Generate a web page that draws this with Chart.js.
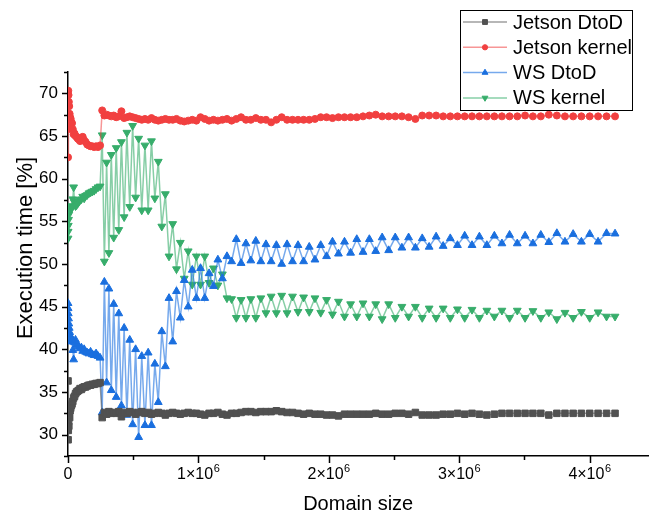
<!DOCTYPE html>
<html>
<head>
<meta charset="utf-8">
<script src="https://cdn.jsdelivr.net/npm/chart.js@4.4.0/dist/chart.umd.min.js"></script>
<style>
  html, body { margin: 0; padding: 0; background: #fff; }
  #wrap { width: 654px; height: 518px; }
</style>
</head>
<body>
<div id="wrap"><canvas id="myChart" width="654" height="518"></canvas></div>
<script>
// domain sizes of the runs (N x N grids)
var domainSize = [
  256, 1024, 2304, 4096, 6400, 9216, 12544, 16384, 20736, 25600, 30976, 36864, 43264, 50176, 57600, 65536,
  73984, 82944, 92416, 102400, 112896, 123904, 135424, 147456, 160000, 173056, 186624, 200704, 215296, 230400, 246016, 262144,
  278784, 295936, 313600, 331776, 350464, 369664, 389376, 409600, 430336, 451584, 473344, 495616, 518400, 541696, 565504, 589824,
  614656, 640000, 665856, 692224, 719104, 746496, 774400, 802816, 831744, 861184, 891136, 921600, 952576, 984064, 1016064, 1048576,
  1081600, 1115136, 1149184, 1183744, 1218816, 1254400, 1290496, 1327104, 1364224, 1401856, 1440000, 1478656, 1517824, 1557504, 1597696, 1638400,
  1679616, 1721344, 1763584, 1806336, 1849600, 1893376, 1937664, 1982464, 2027776, 2073600, 2119936, 2166784, 2214144, 2262016, 2310400, 2359296,
  2408704, 2458624, 2509056, 2560000, 2611456, 2663424, 2715904, 2768896, 2822400, 2876416, 2930944, 2985984, 3041536, 3097600, 3154176, 3211264,
  3268864, 3326976, 3385600, 3444736, 3504384, 3564544, 3625216, 3686400, 3748096, 3810304, 3873024, 3936256, 4000000, 4064256, 4129024, 4194304
];

// execution time share [%]
var jetsonDtoD = [
  36.3, 29.4, 30.5, 31.5, 31.0, 32.2, 32.0, 32.8, 33.1, 33.4, 33.6, 33.9, 34.3, 34.5, 34.8, 35.0,
  35.1, 35.2, 35.4, 35.3, 35.5, 35.6, 35.6, 35.7, 35.8, 35.8, 35.9, 35.9, 36.0, 36.0, 36.1, 32.0,
  32.6, 32.4, 32.7, 32.5, 32.6, 32.5, 32.7, 32.1, 32.6, 32.5, 32.7, 32.6, 32.4, 32.6, 32.7, 32.5,
  32.6, 32.4, 32.5, 32.6, 32.5, 32.3, 32.5, 32.6, 32.5, 32.4, 32.5, 32.6, 32.5, 32.5, 32.4, 32.3,
  32.5, 32.5, 32.6, 32.4, 32.3, 32.5, 32.5, 32.6, 32.7, 32.7, 32.6, 32.7, 32.7, 32.7, 32.8, 32.7,
  32.6, 32.6, 32.5, 32.4, 32.5, 32.4, 32.4, 32.3, 32.3, 32.2, 32.4, 32.4, 32.4, 32.4, 32.4, 32.5,
  32.4, 32.4, 32.5, 32.5, 32.4, 32.6, 32.3, 32.3, 32.3, 32.4, 32.4, 32.5, 32.4, 32.5, 32.4, 32.3,
  32.4, 32.5, 32.5, 32.5, 32.5, 32.5, 32.5, 32.3, 32.5, 32.5, 32.5, 32.5, 32.5, 32.5, 32.5, 32.5
];
var jetsonKernel = [
  62.5, 65.8, 70.3, 69.8, 69.0, 68.5, 67.6, 67.2, 67.0, 66.6, 66.5, 65.8, 65.2, 65.3, 65.0, 64.9,
  64.7, 64.6, 64.4, 64.8, 64.9, 64.5, 64.3, 64.0, 63.9, 63.8, 63.8, 63.7, 63.8, 63.7, 63.9, 68.0,
  67.4, 67.5, 67.4, 67.3, 67.4, 67.2, 67.3, 67.9, 67.1, 67.2, 67.3, 67.2, 67.1, 67.0, 66.9, 67.0,
  66.9, 67.1, 66.9, 66.8, 66.9, 67.0, 66.9, 66.9, 67.0, 66.8, 66.7, 66.8, 66.9, 66.8, 67.2, 67.0,
  66.8, 66.9, 66.8, 66.9, 67.0, 66.8, 67.0, 67.2, 66.9, 66.9, 67.1, 66.9, 66.9, 66.6, 66.9, 67.2,
  66.9, 66.9, 66.9, 66.9, 66.9, 67.0, 67.2, 67.2, 67.1, 67.2, 67.2, 67.2, 67.2, 67.3, 67.4, 67.5,
  67.3, 67.3, 67.3, 67.3, 67.2, 67.0, 67.4, 67.4, 67.4, 67.3, 67.3, 67.3, 67.3, 67.3, 67.3, 67.3,
  67.3, 67.3, 67.3, 67.3, 67.4, 67.3, 67.3, 67.5, 67.4, 67.3, 67.3, 67.3, 67.3, 67.3, 67.3, 67.3
];
var wsDtoD = [
  45.4, 44.8, 44.2, 43.6, 43.0, 42.5, 42.0, 41.6, 41.3, 40.9, 41.2, 39.9, 38.8, 40.8, 41.1, 40.6,
  40.5, 40.3, 40.1, 40.2, 39.8, 40.0, 39.7, 39.6, 39.5, 39.7, 39.4, 39.3, 39.5, 39.2, 39.0, 32.6,
  47.9, 36.1, 47.1, 35.2, 45.3, 34.4, 44.2, 33.4, 42.5, 32.3, 41.1, 31.2, 40.0, 29.7, 39.2, 31.1,
  39.6, 31.1, 38.3, 33.8, 42.1, 38.0, 46.0, 40.9, 46.8, 43.7, 48.1, 45.0, 49.3, 46.0, 49.5, 46.0,
  48.9, 47.4, 50.5, 48.3, 50.9, 50.3, 52.9, 50.1, 52.4, 50.4, 52.7, 50.3, 52.3, 50.3, 52.2, 50.0,
  52.3, 50.3, 52.2, 50.3, 52.0, 50.5, 52.2, 50.9, 52.6, 51.2, 52.6, 51.3, 52.9, 51.4, 52.9, 51.5,
  53.1, 51.6, 53.1, 51.9, 53.1, 51.9, 53.0, 52.0, 53.2, 52.1, 53.0, 52.2, 53.3, 52.2, 53.2, 52.2,
  53.3, 52.4, 53.4, 52.4, 53.3, 52.4, 53.4, 52.55, 53.6, 52.6, 53.5, 52.6, 53.5, 52.6, 53.6, 53.55
];
var wsKernel = [
  53.0, 53.8, 54.5, 55.2, 55.8, 56.2, 56.5, 56.7, 56.4, 56.8, 56.6, 57.6, 59.0, 57.2, 56.8, 56.9,
  57.1, 57.3, 57.5, 57.6, 57.9, 57.7, 58.0, 58.1, 58.3, 58.4, 58.5, 58.6, 58.8, 59.0, 59.1, 65.1,
  50.3, 61.9, 51.3, 62.8, 53.1, 63.6, 54.0, 64.3, 55.5, 65.4, 56.7, 66.2, 57.8, 64.7, 56.3, 63.9,
  56.3, 64.4, 57.7, 62.0, 54.4, 58.2, 50.9, 54.7, 49.4, 52.5, 48.3, 51.5, 47.6, 50.9, 47.6, 50.9,
  47.8, 49.5, 47.5, 48.8, 46.0, 45.9, 43.7, 45.8, 43.7, 45.9, 43.7, 46.0, 44.25, 46.2, 44.25, 46.3,
  44.25, 46.2, 44.4, 46.1, 44.4, 46.0, 44.3, 45.8, 44.1, 45.6, 43.85, 45.3, 43.85, 45.4, 43.85, 45.3,
  43.55, 45.3, 43.7, 45.0, 43.85, 45.0, 43.7, 44.8, 43.7, 44.8, 43.7, 44.7, 43.7, 44.65, 43.7, 44.55,
  43.85, 44.55, 43.7, 44.55, 43.7, 44.5, 43.7, 44.35, 43.55, 44.3, 43.7, 44.4, 43.7, 44.35, 43.85, 43.85
];

var seriesNames = ['Jetson DtoD', 'Jetson kernel', 'WS DtoD', 'WS kernel'];
var xTickValues = [0, 1000000, 2000000, 3000000, 4000000];
var xTickMantissa = ['0', '1×10', '2×10', '3×10', '4×10'];
var xTickExponent = ['', '6', '6', '6', '6'];
var yTickValues = [30, 35, 40, 45, 50, 55, 60, 65, 70];
var yTitle = 'Execution time [%]';

var FONT = '"Liberation Sans", Arial, sans-serif';

function toPoints(xs, ys) {
  return xs.map(function (x, i) { return { x: x, y: ys[i] }; });
}

function makeSeries(label, values, color, lineColor, style, radius, rotation) {
  return {
    label: label,
    data: toPoints(domainSize, values),
    borderColor: lineColor,
    borderWidth: 1.5,
    pointStyle: style,
    pointRadius: radius,
    pointRotation: rotation || 0,
    pointBackgroundColor: color,
    pointBorderColor: color,
    pointBorderWidth: 1,
    tension: 0
  };
}

// Origin-style axis ticks (long major, short minor, outwards),
// x labels with a raised exponent, and the rotated y title
var axisDecor = {
  id: 'axisDecor',
  afterDraw: function (chart) {
    var ctx = chart.ctx, area = chart.chartArea, x = chart.scales.x, y = chart.scales.y;
    ctx.save();
    ctx.strokeStyle = '#000';
    ctx.lineWidth = 1.5;
    ctx.beginPath();
    for (var v = 0; v <= x.max; v += 500000) {
      var px = Math.round(x.getPixelForValue(v)) + 0.5;
      var len = v % 1000000 === 0 ? 7 : 4;
      ctx.moveTo(px, area.bottom);
      ctx.lineTo(px, area.bottom + len);
    }
    for (var w = y.min; w <= y.max + 0.001; w += 2.5) {
      var py = Math.round(y.getPixelForValue(w)) + 0.5;
      var l2 = w % 5 === 0 ? 6 : 4;
      ctx.moveTo(area.left, py);
      ctx.lineTo(area.left - l2, py);
    }
    ctx.stroke();

    ctx.fillStyle = '#000';
    ctx.textBaseline = 'alphabetic';
    xTickValues.forEach(function (val, i) {
      var cx = x.getPixelForValue(val);
      ctx.font = '16px ' + FONT;
      var w1 = ctx.measureText(xTickMantissa[i]).width;
      ctx.font = '11px ' + FONT;
      var w2 = xTickExponent[i] ? ctx.measureText(xTickExponent[i]).width + 0.5 : 0;
      var left = cx - (w1 + w2) / 2;
      ctx.font = '16px ' + FONT;
      ctx.textAlign = 'left';
      ctx.fillText(xTickMantissa[i], left, area.bottom + 23);
      if (w2) {
        ctx.font = '11px ' + FONT;
        ctx.fillText(xTickExponent[i], left + w1 + 0.5, area.bottom + 16);
      }
    });

    ctx.translate(26, 248);
    ctx.rotate(-Math.PI / 2);
    ctx.font = '22px ' + FONT;
    ctx.textAlign = 'center';
    ctx.textBaseline = 'middle';
    ctx.fillText(yTitle, 0, 0);
    ctx.restore();
  }
};

// boxed legend with line + symbol samples
var legendBox = {
  id: 'legendBox',
  afterDraw: function (chart) {
    var ctx = chart.ctx;
    ctx.save();
    ctx.strokeStyle = '#000';
    ctx.lineWidth = 1;
    ctx.strokeRect(460.5, 10.5, 172, 100);
    chart.data.datasets.forEach(function (ds, i) {
      var yy = 22 + i * 25.3;
      ctx.strokeStyle = ds.borderColor;
      ctx.lineWidth = 1.5;
      ctx.beginPath();
      ctx.moveTo(463, yy);
      ctx.lineTo(507, yy);
      ctx.stroke();
      ctx.fillStyle = ds.pointBackgroundColor;
      ctx.strokeStyle = ds.pointBorderColor;
      ctx.lineWidth = 1;
      Chart.helpers.drawPoint(ctx, {
        pointStyle: ds.pointStyle,
        rotation: ds.pointRotation,
        radius: ds.pointRadius * 0.75,
        borderWidth: 1
      }, 485, yy);
      ctx.fillStyle = '#000';
      ctx.font = '20px ' + FONT;
      ctx.textBaseline = 'middle';
      ctx.textAlign = 'left';
      ctx.fillText(ds.label, 513, yy + 1);
    });
    ctx.restore();
  }
};

var ctx = document.getElementById('myChart').getContext('2d');
var myChart = new Chart(ctx, {
  type: 'line',
  data: {
    datasets: [
      makeSeries(seriesNames[0], jetsonDtoD, '#515151', 'rgba(81,81,81,0.55)', 'rect', 4.6),
      makeSeries(seriesNames[1], jetsonKernel, '#F14040', 'rgba(241,64,64,0.55)', 'circle', 3.5),
      makeSeries(seriesNames[2], wsDtoD, '#1A6FDF', 'rgba(26,111,223,0.6)', 'triangle', 4.5),
      makeSeries(seriesNames[3], wsKernel, '#37AD6B', 'rgba(55,173,107,0.6)', 'triangle', 4.5, 180)
    ]
  },
  options: {
    responsive: false,
    animation: false,
    devicePixelRatio: 1,
    layout: { padding: { top: 72, right: 0, left: 0, bottom: 0 } },
    plugins: {
      legend: { display: false },
      tooltip: { enabled: false }
    },
    scales: {
      x: {
        type: 'linear',
        min: 0,
        max: 4450000,
        afterBuildTicks: function (scale) {
          scale.ticks = xTickValues.map(function (v) { return { value: v }; });
        },
        afterFit: function (scale) { scale.height = 62; },
        ticks: { display: false },
        grid: { drawOnChartArea: false, drawTicks: false },
        border: { display: true, color: '#000', width: 1.5 },
        title: {
          display: true,
          text: 'Domain size',
          color: '#000',
          font: { family: FONT, size: 20 },
          padding: { top: 0, bottom: 2 }
        }
      },
      y: {
        type: 'linear',
        min: 27.5,
        max: 72.5,
        afterBuildTicks: function (scale) {
          scale.ticks = yTickValues.map(function (v) { return { value: v }; });
        },
        afterFit: function (scale) { scale.width = 68; },
        ticks: {
          padding: 10,
          color: '#000',
          font: { family: FONT, size: 17 }
        },
        grid: { drawOnChartArea: false, drawTicks: false },
        border: { display: true, color: '#000', width: 1.5 }
      }
    }
  },
  plugins: [axisDecor, legendBox]
});
</script>
</body>
</html>
